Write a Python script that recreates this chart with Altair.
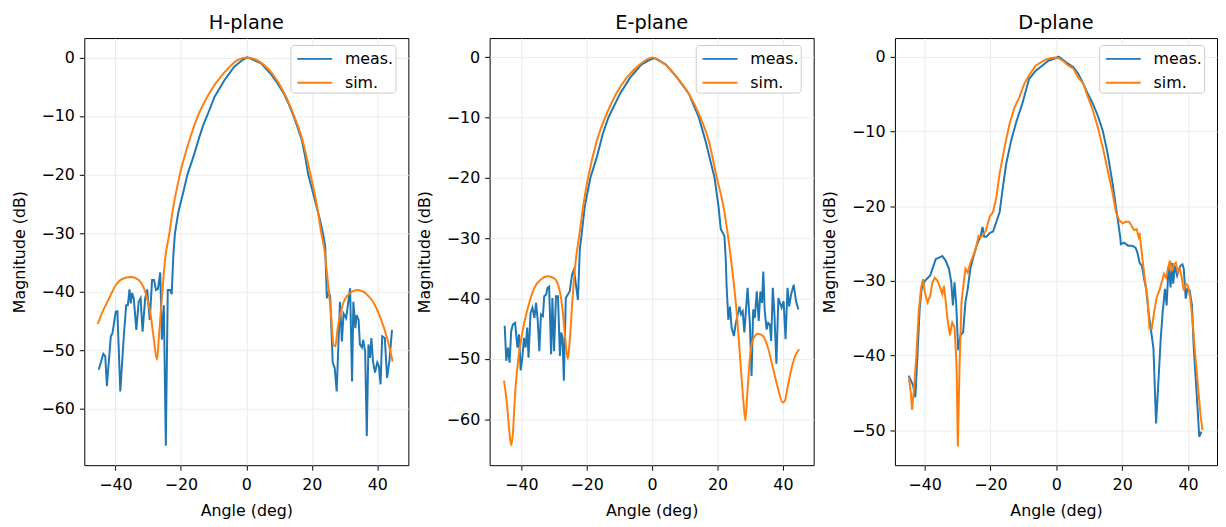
import altair as alt
import pandas as pd

FONT = "DejaVu Sans"
BLUE = "#1f77b4"
ORANGE = "#ff7f0e"
SERIES = ["meas.", "sim."]

# ---------------- H-plane ----------------
h_meas_ang = [-45.1, -43.7, -43.1, -42.6, -41.4, -40.9, -39.9, -39.4, -38.5, -37.4, -36.7, -36.2,
              -35.7, -35.3, -34.9, -34.4, -33.6, -32.9, -32.3, -31.7, -30.9, -30.3, -29.5, -28.8,
              -28.2, -27.6, -27.0, -26.3, -25.8, -25.2, -24.6, -24.0, -23.3, -22.8, -22.3, -21.8,
              -20.8, -19.3, -18.0, -16.8, -15.8, -14.3, -13.2, -12.0, -9.7, -6.7, -3.7, -1.2,
              0.3, 2.3, 4.5, 7.3, 9.5, 11.4, 13.0, 14.4, 15.7, 16.9, 18.0, 18.9, 20.2, 21.4,
              22.4, 23.4, 24.1, 24.6, 25.2, 25.6, 26.4, 27.0, 27.6, 28.2, 28.6, 29.2, 29.7,
              30.5, 31.3, 31.7, 32.3, 32.7, 33.3, 33.7, 34.3, 34.7, 35.3, 35.7, 36.3, 36.8,
              37.3, 37.8, 38.2, 38.7, 39.3, 40.0, 40.5, 41.0, 41.5, 42.3, 43.0, 43.7, 44.5]
h_meas_db = [-53.3, -50.6, -51.0, -56.1, -47.6, -47.1, -43.4, -43.3, -57.0, -47.3, -42.3, -42.3,
             -39.6, -42.0, -40.2, -41.1, -46.5, -41.7, -41.1, -46.8, -41.1, -39.6, -44.8, -38.0,
             -38.0, -39.7, -39.5, -36.7, -48.2, -42.3, -66.3, -39.7, -39.7, -40.4, -33.8, -30.0,
             -26.5, -23.1, -20.0, -18.0, -16.3, -13.5, -11.6, -10.0, -6.7, -3.9, -1.6, -0.45,
             0.0, -0.45, -1.0, -2.7, -4.4, -6.1, -8.0, -10.0, -12.0, -14.0, -17.0, -20.0, -22.7, -25.4,
             -27.5, -30.0, -32.2, -41.1, -40.0, -40.8, -52.1, -53.0, -57.0, -47.9, -41.7, -48.5, -43.7,
             -44.5, -41.1, -39.4, -55.3, -41.7, -46.2, -44.0, -44.8, -49.0, -49.5, -48.2, -50.2, -64.6,
             -49.0, -51.3, -47.9, -51.9, -53.8, -52.1, -52.7, -55.8, -47.6, -47.9, -54.7, -51.9, -46.5]
h_sim_ang = [-45.4, -43.9, -41.9, -39.9, -37.4, -35.1, -32.9, -30.9, -29.3, -28.3, -27.3, -26.6,
             -25.8, -24.8, -23.5, -22.6, -20.3, -17.3, -14.8, -11.3, -6.9, -2.7, 0.0, 3.0, 7.8,
             11.6, 14.6, 17.1, 19.6, 21.6, 22.9, 23.9, 24.9, 25.9, 26.6, 27.2, 27.9, 29.4, 31.5,
             34.0, 36.5, 39.0, 41.0, 43.0, 44.7]
h_sim_db = [-45.5, -43.4, -41.1, -38.9, -37.7, -37.5, -38.0, -40.0, -43.7, -47.9, -51.6, -46.8,
            -41.1, -34.4, -30.0, -26.5, -20.0, -14.0, -10.0, -6.1, -2.7, -0.45, 0.0, -0.4, -2.7,
            -6.1, -10.0, -14.0, -20.0, -25.4, -30.0, -33.0, -38.3, -44.0, -49.0, -49.3, -46.2, -42.3, -40.3,
            -39.7, -40.3, -42.0, -44.5, -47.9, -51.9]

# ---------------- E-plane ----------------
e_meas_ang = [-45.1, -44.6, -44.1, -43.6, -43.1, -42.6, -41.9, -41.2, -40.7, -40.2, -39.7, -39.2,
              -38.7, -38.2, -37.8, -37.2, -36.6, -36.0, -35.5, -35.0, -34.5, -34.0, -33.4, -33.0,
              -32.4, -32.0, -31.5, -30.9, -30.5, -30.0, -29.4, -28.8, -28.2, -27.8, -27.4, -27.0,
              -26.4, -25.8, -25.2, -24.5, -23.9, -23.3, -22.7, -22.1, -21.7, -20.6, -18.9, -16.9,
              -15.1, -13.4, -9.9, -6.8, -3.3, -0.8, 0.7, 4.2, 7.7, 11.3, 14.3, 16.3, 19.1, 20.3,
              21.0, 22.1, 22.5, 22.8, 23.3, 23.8, 24.3, 25.0, 25.5, 26.2, 26.7, 27.2, 27.7, 28.2,
              28.7, 29.2, 29.9, 30.4, 30.9, 31.4, 32.0, 32.6, 33.1, 33.6, 34.0, 34.4, 35.0, 35.5,
              36.0, 36.4, 36.9, 37.4, 38.0, 38.6, 39.1, 39.6, 40.2, 40.8, 41.4, 41.9, 42.5, 43.3,
              44.0, 44.7]
e_meas_db = [-44.5, -50.3, -48.1, -50.6, -45.4, -44.3, -44.0, -48.1, -45.9, -51.9, -49.8, -46.5,
             -48.1, -44.8, -49.8, -42.4, -41.5, -43.2, -40.7, -43.5, -48.7, -42.6, -42.9, -39.6,
             -39.3, -38.2, -38.0, -49.2, -39.9, -48.7, -39.6, -39.6, -49.5, -45.6, -46.5, -53.6,
             -39.9, -39.3, -38.8, -36.0, -35.2, -37.7, -40.2, -31.7, -30.0, -24.7, -20.0, -16.5,
             -12.7, -10.0, -6.1, -3.4, -1.2, -0.4, -0.1, -1.2, -3.4, -6.1, -10.0, -13.8, -20.0, -24.7,
             -28.5, -29.6, -33.4, -38.2, -43.5, -41.3, -44.8, -46.2, -44.3, -42.6, -41.3, -42.6, -42.1, -45.6,
             -41.8, -38.2, -44.3, -52.8, -41.8, -43.2, -38.8, -43.7, -38.8, -40.7, -35.5, -41.8, -45.1, -44.0,
             -44.3, -47.0, -38.2, -42.6, -50.8, -39.9, -40.7, -41.5, -40.4, -46.7, -38.2, -41.3, -39.3, -37.7,
             -40.4, -41.8]
e_sim_ang = [-45.3, -44.3, -43.6, -43.1, -42.6, -41.9, -41.0, -39.8, -38.0, -36.0, -34.0, -32.0,
             -30.0, -28.5, -27.5, -26.5, -25.8, -25.2, -24.4, -23.7, -23.1, -22.4, -21.1, -19.6,
             -16.9, -14.4, -11.1, -7.8, -3.8, 0.0, 4.0, 7.7, 11.3, 14.8, 17.3, 19.8, 21.8, 23.3,
             24.1, 24.8, 25.9, 26.9, 27.9, 28.5, 29.1, 29.9, 30.9, 32.4, 33.9, 35.4, 36.9, 38.4,
             39.9, 40.6, 41.4, 42.7, 44.0, 45.0]
e_sim_db = [-53.6, -58.0, -62.4, -64.3, -62.4, -55.7, -50.3, -45.9, -41.5, -38.2, -36.8, -36.3,
            -36.6, -38.2, -41.3, -47.0, -50.0, -47.0, -40.4, -35.5, -32.5, -30.0, -24.7, -20.0,
            -13.8, -10.0, -6.1, -3.4, -1.2, 0.0, -1.2, -3.4, -6.1, -10.0, -13.8, -20.0, -24.7, -30.0,
            -33.4, -36.6, -42.6, -49.8, -56.9, -60.2, -55.8, -49.8, -46.7, -45.8, -46.2, -48.1, -51.4, -54.7,
            -57.2, -56.9, -54.7, -51.4, -49.2, -48.4]

# ---------------- D-plane ----------------
d_meas_ang = [-44.8, -44.2, -43.5, -42.8, -42.2, -41.5, -40.9, -39.9, -38.3, -37.3, -36.6, -35.6,
              -34.6, -33.6, -32.6, -31.9, -31.4, -30.9, -30.4, -29.8, -29.1, -28.3, -27.6, -26.9,
              -26.1, -25.1, -24.2, -23.0, -22.4, -21.9, -21.2, -20.2, -19.2, -18.2, -17.2, -16.2,
              -15.2, -13.7, -12.2, -10.2, -8.3, -6.3, -4.3, -2.3, -0.3, 0.7, 1.7, 3.2, 5.2, 6.7,
              8.2, 9.6, 11.1, 12.6, 14.1, 15.6, 17.1, 18.4, 19.4, 19.6, 20.6, 21.8, 23.1, 24.1,
              24.6, 25.3, 26.0, 26.7, 27.3, 28.0, 28.7, 29.5, 30.3, 31.0, 31.7, 32.3, 33.0, 33.5,
              34.1, 34.7, 35.1, 35.5, 36.0, 36.7, 37.3, 37.7, 38.3, 38.7, 39.3, 39.8, 40.5, 41.2,
              41.7, 42.4, 42.9, 43.4, 44.1]
d_meas_db = [-42.7, -43.3, -44.0, -45.6, -40.4, -33.8, -31.1, -30.0, -29.3, -28.0, -27.1, -26.9,
             -26.7, -27.3, -28.4, -30.2, -33.3, -30.2, -33.1, -39.3, -37.3, -36.9, -32.9, -31.1,
             -28.4, -26.7, -25.3, -24.0, -22.8, -24.1, -24.1, -23.6, -23.4, -22.1, -20.8, -17.4,
             -14.3, -11.2, -8.8, -6.1, -3.0, -1.9, -1.2, -0.5, -0.2, 0.0, -0.3, -0.8, -1.4, -2.3,
             -3.6, -5.0, -6.3, -7.9, -9.9, -13.0, -17.0, -21.0, -24.1, -25.1, -24.9, -25.3, -25.3, -25.6,
             -26.2, -27.6, -28.0, -29.8, -31.1, -34.2, -36.4, -39.1, -49.1, -43.6, -37.8, -34.2, -31.1, -33.3,
             -28.0, -30.9, -27.6, -30.4, -28.0, -29.3, -28.4, -28.0, -27.8, -28.4, -32.4, -31.1, -31.3, -33.3,
             -38.7, -43.6, -47.1, -50.9, -50.2]
d_sim_ang = [-44.8, -44.2, -43.8, -43.2, -42.5, -41.8, -41.1, -40.5, -39.9, -39.1, -38.3, -37.6,
             -36.9, -36.1, -35.3, -34.6, -34.1, -33.6, -33.1, -32.3, -31.6, -30.9, -30.3, -29.9,
             -29.4, -28.8, -28.1, -27.6, -26.9, -26.1, -25.3, -24.4, -23.6, -23.0, -22.2, -21.4,
             -20.2, -19.2, -18.2, -17.2, -15.7, -14.2, -12.7, -11.2, -9.7, -8.3, -6.3, -4.8, -3.3,
             -1.8, -0.3, 0.7, 2.2, 3.7, 5.2, 6.7, 8.2, 9.6, 11.1, 12.6, 14.1, 15.6, 17.1, 18.1,
             19.1, 20.1, 21.1, 22.1, 22.8, 23.6, 24.4, 25.0, 25.3, 25.7, 26.3, 27.0, 27.7, 28.3,
             29.0, 29.7, 30.5, 31.3, 32.0, 32.7, 33.3, 33.9, 34.5, 35.1, 35.7, 36.3, 36.9, 37.5,
             38.1, 38.7, 39.3, 40.0, 40.7, 41.5, 42.2, 43.0, 43.8, 44.4]
d_sim_db = [-42.9, -44.9, -47.3, -44.4, -40.0, -34.2, -31.1, -29.8, -31.6, -32.9, -32.0, -30.2,
            -29.6, -30.0, -30.9, -31.8, -30.7, -32.7, -34.9, -37.3, -35.6, -36.2, -41.3, -52.2,
            -41.8, -32.9, -30.2, -28.4, -28.9, -27.6, -26.7, -25.6, -24.0, -24.2, -23.8, -23.3,
            -21.4, -20.8, -18.8, -15.6, -12.1, -9.0, -6.8, -5.4, -3.6, -2.5, -1.2, -0.8, -0.4,
            -0.2, -0.1, -0.2, -0.6, -1.2, -1.6, -2.8, -3.6, -5.4, -7.2, -9.4, -12.1, -15.2, -18.3, -20.8,
            -21.9, -22.3, -22.1, -22.1, -22.6, -23.2, -23.1, -24.1, -23.6, -25.3, -27.6, -30.2, -32.4, -36.4,
            -36.4, -34.2, -32.2, -31.3, -30.2, -29.1, -29.6, -28.4, -27.3, -28.7, -27.8, -27.6, -28.9, -28.4,
            -29.6, -31.3, -30.4, -30.7, -32.4, -36.0, -40.0, -44.0, -48.0, -50.0]

X_TICKS = [-40, -20, 0, 20, 40]


def panel(title, ma, md, sa, sd, xdom, ydom, yticks, sim_interp, width):
    df = pd.concat([
        pd.DataFrame({"angle": ma, "mag": md, "series": SERIES[0]}),
        pd.DataFrame({"angle": sa, "mag": sd, "series": SERIES[1]}),
    ], ignore_index=True)
    color = alt.Color(
        "series:N",
        scale=alt.Scale(domain=SERIES, range=[BLUE, ORANGE]),
        legend=alt.Legend(title=None, orient="none", legendX=width - 119, legendY=7,
                          labelExpr="datum.label + '\u00a0'"),
    )
    x = alt.X("angle:Q", scale=alt.Scale(domain=xdom, nice=False, zero=False),
              axis=alt.Axis(values=X_TICKS, title="Angle (deg)", format="d"))
    y = alt.Y("mag:Q", scale=alt.Scale(domain=ydom, nice=False, zero=False),
              axis=alt.Axis(values=yticks, title="Magnitude (dB)", format="d"))
    base = alt.Chart(df)
    meas = base.transform_filter(alt.datum.series == SERIES[0]).mark_line(
        strokeWidth=2, clip=True).encode(x=x, y=y, color=color)
    sim = base.transform_filter(alt.datum.series == SERIES[1]).mark_line(
        strokeWidth=2, clip=True, interpolate=sim_interp).encode(x=x, y=y, color=color)
    return alt.layer(meas, sim).properties(
        width=width, height=431,
        title=alt.TitleParams(title, fontSize=19.5, font=FONT, fontWeight="normal",
                              color="black", anchor="middle", baseline="alphabetic", offset=-10),
    )


p1 = panel("H-plane", h_meas_ang, h_meas_db, h_sim_ang, h_sim_db,
           [-49.5, 49.5], [-69.6, 3.3], [0, -10, -20, -30, -40, -50, -60], "monotone", 327)
p2 = panel("E-plane", e_meas_ang, e_meas_db, e_sim_ang, e_sim_db,
           [-49.7, 49.4], [-67.6, 3.2], [0, -10, -20, -30, -40, -50, -60], "monotone", 327)
p3 = panel("D-plane", d_meas_ang, d_meas_db, d_sim_ang, d_sim_db,
           [-49.0, 48.8], [-54.7, 2.5], [0, -10, -20, -30, -40, -50], "linear", 325)

chart = alt.hconcat(p1, p2, p3, spacing=6).resolve_scale(
    color="independent"
).resolve_legend(color="independent").properties(
    padding={"left": 2, "top": 2, "right": 0, "bottom": 0}
).configure_view(
    stroke="black", strokeWidth=1
).configure_axis(
    labelFont=FONT, titleFont=FONT, labelFontSize=16, titleFontSize=16,
    titleFontWeight="normal", labelColor="black", titleColor="black",
    tickColor="black", tickSize=5, tickWidth=1,
    domain=False, grid=True, gridColor="#ebebeb", gridWidth=1,
).configure_axisX(
    labelPadding=7, titlePadding=10
).configure_axisY(
    labelPadding=5, titlePadding=14
).configure_legend(
    padding=2, fillColor="white", strokeColor="#cccccc",
    cornerRadius=3, symbolType="M-1.6,0H1.6", symbolSize=484, symbolStrokeWidth=2,
    symbolOffset=10.5, labelFont=FONT, labelFontSize=16, labelColor="black",
    labelOffset=18.5, rowPadding=4,
)

chart.save("out.html", embed_options={"renderer": "svg", "actions": False})
